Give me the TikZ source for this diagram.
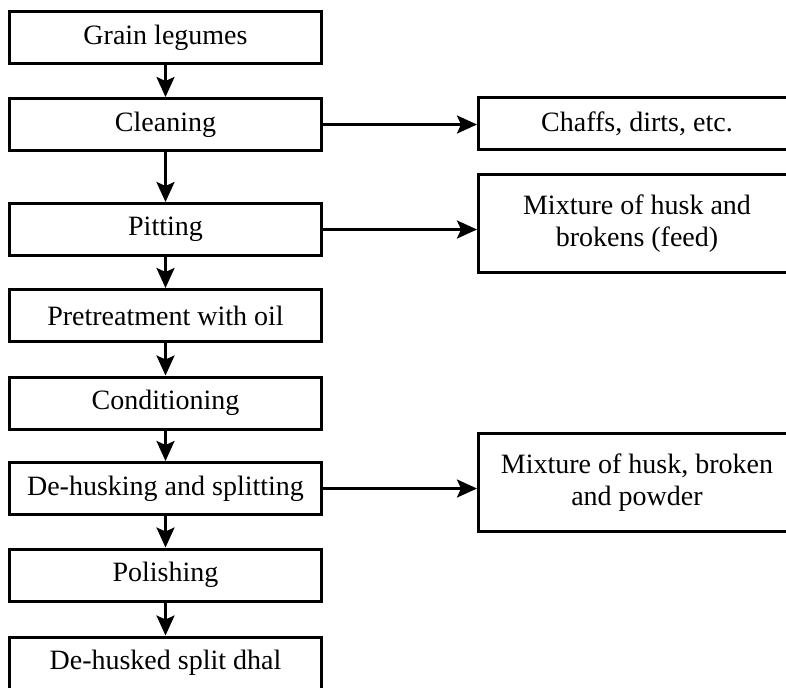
\documentclass[tikz,border=0pt]{standalone}
\usepackage{fontspec}
\setmainfont{Liberation Serif}
\usetikzlibrary{positioning,arrows.meta}
\tikzset{
        ->,  % directed connectors
        >={Stealth[length=10pt,width=9pt,inset=2pt]}, % bold arrow heads
        stepbox/.style={draw, line width=1.5pt, minimum width=156pt, minimum height=26pt, inner sep=0pt, align=center, font=\fontsize{14}{16}\selectfont}, % process steps
        outbox/.style={stepbox, minimum width=158.5pt}, % by-products
        flow/.style={line width=1.3pt},
}
\begin{document}
\begin{tikzpicture}[x=0.5pt,y=-0.5pt]
\useasboundingbox (0,0) rectangle (786,687);
% main line
\node[stepbox] (grain) at (165.5,37.5) {Grain legumes};
\node[stepbox] (clean) at (165.5,124.5) {Cleaning};
\node[stepbox] (pit) at (165.5,229.5) {Pitting};
\node[stepbox] (oil) at (165.5,315.5) {Pretreatment with oil};
\node[stepbox] (cond) at (165.5,403) {Conditioning};
\node[stepbox] (husk) at (165.5,488.5) {De-husking and splitting};
\node[stepbox] (polish) at (165.5,575) {Polishing};
\node[stepbox] (dhal) at (165.5,663) {De-husked split dhal};
% by-products
\node[outbox] (chaff) at (637,123.5) {Chaffs, dirts, etc.};
\node[outbox, minimum height=49pt] (feed) at (637,223.5) {Mixture of husk and\\brokens (feed)};
\node[outbox, minimum height=49pt] (powder) at (637,482.5) {Mixture of husk, broken\\and powder};
\draw[flow] (grain) -- (clean);
\draw[flow] (clean) -- (pit);
\draw[flow] (pit) -- (oil);
\draw[flow] (oil) -- (cond);
\draw[flow] (cond) -- (husk);
\draw[flow] (husk) -- (polish);
\draw[flow] (polish) -- (dhal);
\draw[flow] (clean.east) -- (clean.east -| chaff.west);
\draw[flow] (pit.east) -- (pit.east -| feed.west);
\draw[flow] (husk.east) -- (husk.east -| powder.west);

\end{tikzpicture}
\end{document}
